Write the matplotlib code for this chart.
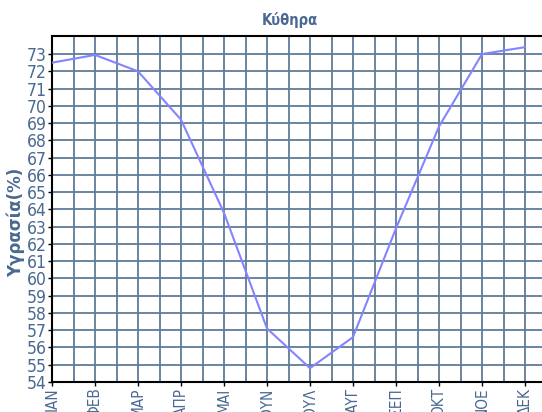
import matplotlib
matplotlib.use('Agg')
import matplotlib.pyplot as plt
import numpy as np

# donnees
mois = ['ΙΑΝ', 'ΦΕΒ', 'ΜΑΡ', 'ΑΠΡ', 'ΜΑΙ', 'ΙΟΥΝ', 'ΙΟΥΛ', 'ΑΥΓ', 'ΣΕΠ', 'ΟΚΤ', 'ΝΟΕ', 'ΔΕΚ']
humidite = [72.5, 72.95, 72.0, 69.2, 63.8, 57.1, 54.8, 56.6, 62.9, 68.8, 73.0, 73.4]
y_ticks = list(range(54, 74))

txt = '#4a6890' ; grille = '#5f7c9a' ; courbe = '#8484ff'
plt.rcParams['font.family'] = ['DejaVu Sans']
plt.rcParams['font.stretch'] = 'condensed'

fig = plt.figure(figsize=(5.42, 4.12), dpi=100)
# l'axe depasse a droite comme dans l'original
ax = fig.add_axes([52/542, 30/412, 500/542, 346/412])

x = np.arange(len(mois))
ax.plot(x, humidite, color=courbe, lw=1.5, zorder=3)

ax.set_xlim(0, 500/43) ; ax.set_ylim(54, 54 + 346/17.26)
ax.set_xticks(x) ; ax.set_xticklabels(mois, rotation=90, color=txt, fontsize=11)
ax.set_xticks(np.arange(0.5, 12, 1), minor=True)
ax.set_yticks(y_ticks) ; ax.set_yticklabels([str(v) for v in y_ticks], color=txt, fontsize=12.5)
ax.grid(True, which='both', color=grille, lw=1.3)
ax.tick_params(axis='both', which='major', length=3, width=1, color='black', pad=1)
ax.tick_params(axis='x', which='minor', length=0)
for s in ax.spines.values():
    s.set_color('black') ; s.set_linewidth(1.5)
ax.spines['right'].set_visible(False)

fig.text(290/542, 1 - 20/412, 'Κύθηρα', ha='center', va='center', color=txt, fontsize=10.5, fontweight='bold')
fig.text(16/542, 1 - 222/412, 'Υγρασία(%)', ha='center', va='center', rotation=90, color=txt, fontsize=12, fontweight='bold', fontstretch='normal')

fig.savefig('out.png', dpi=100)
